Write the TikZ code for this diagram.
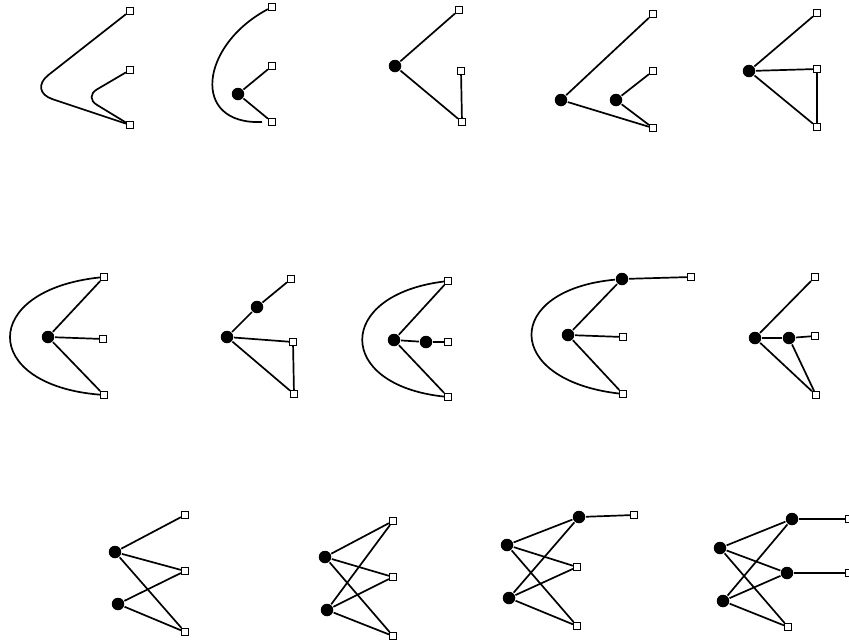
\documentclass[tikz,border=0pt]{standalone}
\usepackage{tikz}

\begin{document}
\begin{tikzpicture}[x=1pt, y=-1pt, line width=1.7pt,
      sq/.style={draw, line width=1.1pt, fill=white, inner sep=0pt, minimum size=7pt},
      dot/.style={circle, fill=black, inner sep=0pt, minimum size=12.5pt}]
      \useasboundingbox (0,0) rectangle (849,641);
      % row 1
      \node[sq] (a1) at (130,11) {};  \node[sq] (a2) at (130,70) {};  \node[sq] (a3) at (130,125) {};
      \coordinate (a4) at (28,91);    \coordinate (a5) at (84,97);
      \draw[rounded corners=26pt] (a1) -- (a4) -- (a3);
      \draw[rounded corners=15pt] (a2) -- (a5) -- (a3);
      \node[sq] (b1) at (272,7) {};   \node[sq] (b2) at (272,66) {};  \node[sq] (b3) at (272,122) {};
      \node[dot] (b4) at (238,94) {}; \coordinate (b5) at (262,122);
      \draw (b1) .. controls (200,45) and (190,125) .. (b5);
      \draw (b4) -- (b2);  \draw (b4) -- (b3);
      \node[sq] (c1) at (459,10) {};  \node[sq] (c2) at (461,71) {};  \node[sq] (c3) at (462,122) {};
      \node[dot] (c4) at (395,66) {};
      \draw (c4) -- (c1);  \draw (c4) -- (c3);  \draw (c2) -- (c3);
      \node[sq] (d1) at (653,14) {};  \node[sq] (d2) at (653,71) {};  \node[sq] (d3) at (653,128) {};
      \node[dot] (d4) at (561,100) {}; \node[dot] (d5) at (616,100) {};
      \draw (d4) -- (d1);  \draw (d4) -- (d3);  \draw (d5) -- (d2);  \draw (d5) -- (d3);
      \node[sq] (e1) at (817,13) {};  \node[sq] (e2) at (817,69) {};  \node[sq] (e3) at (817,127) {};
      \node[dot] (e4) at (749,71) {};
      \draw (e4) -- (e1);  \draw (e4) -- (e2);  \draw (e4) -- (e3);  \draw (e2) -- (e3);
      % row 2
      \node[sq] (f1) at (104,277) {}; \node[sq] (f2) at (103,339) {}; \node[sq] (f3) at (104,395) {};
      \node[dot] (f4) at (48,337) {};
      \draw (f1) .. controls (-20,290) and (-20,385) .. (f3);
      \draw (f4) -- (f1);  \draw (f4) -- (f2);  \draw (f4) -- (f3);
      \node[sq] (g1) at (291,279) {}; \node[sq] (g2) at (293,342) {}; \node[sq] (g3) at (294,394) {};
      \node[dot] (g4) at (227,337) {}; \node[dot] (g5) at (257,307) {};
      \draw (g4) -- (g5) -- (g1);  \draw (g4) -- (g2);  \draw (g4) -- (g3);  \draw (g2) -- (g3);
      \node[sq] (h1) at (448,281) {}; \node[sq] (h2) at (448,342) {}; \node[sq] (h3) at (448,397) {};
      \node[dot] (h4) at (394,340) {}; \node[dot] (h5) at (426,342) {};
      \draw (h1) .. controls (335,295) and (335,385) .. (h3);
      \draw (h4) -- (h1);  \draw (h4) -- (h5) -- (h2);  \draw (h4) -- (h3);
      \node[dot] (i1) at (622,279) {}; \node[sq] (i2) at (623,337) {}; \node[sq] (i3) at (623,394) {};
      \node[dot] (i4) at (568,335) {}; \node[sq] (i5) at (691,277) {};
      \draw (i1) .. controls (503,290) and (503,380) .. (i3);
      \draw (i4) -- (i1);  \draw (i4) -- (i2);  \draw (i4) -- (i3);  \draw (i1) -- (i5);
      \node[sq] (j1) at (815,277) {}; \node[sq] (j2) at (815,336) {}; \node[sq] (j3) at (816,395) {};
      \node[dot] (j4) at (755,338) {}; \node[dot] (j5) at (789,338) {};
      \draw (j4) -- (j1);  \draw (j4) -- (j5) -- (j2);  \draw (j4) -- (j3);  \draw (j5) -- (j3);
      % row 3
      \node[sq] (k1) at (185,515) {}; \node[sq] (k2) at (185,571) {}; \node[sq] (k3) at (185,632) {};
      \node[dot] (k4) at (115,552) {}; \node[dot] (k5) at (118,604) {};
      \draw (k4) -- (k1);  \draw (k4) -- (k2);  \draw (k4) -- (k3);  \draw (k5) -- (k2);  \draw (k5) -- (k3);
      \node[sq] (l1) at (393,521) {}; \node[sq] (l2) at (393,577) {}; \node[sq] (l3) at (393,636) {};
      \node[dot] (l4) at (325,557) {}; \node[dot] (l5) at (327,610) {};
      \foreach \s in {l1,l2,l3} {\draw (l4) -- (\s);  \draw (l5) -- (\s);}
      \node[dot] (m1) at (579,517) {}; \node[sq] (m2) at (577,567) {}; \node[sq] (m3) at (577,626) {};
      \node[dot] (m4) at (507,545) {}; \node[dot] (m5) at (509,598) {}; \node[sq] (m6) at (634,515) {};
      \foreach \s in {m1,m2,m3} {\draw (m4) -- (\s);  \draw (m5) -- (\s);}
      \draw (m1) -- (m6);
      \node[dot] (n1) at (792,519) {}; \node[dot] (n2) at (787,573) {}; \node[sq] (n3) at (788,627) {};
      \node[dot] (n4) at (720,548) {}; \node[dot] (n5) at (723,601) {};
      \node[sq] (n6) at (849,519) {}; \node[sq] (n7) at (849,573) {};
      \foreach \s in {n1,n2,n3} {\draw (n4) -- (\s);  \draw (n5) -- (\s);}
      \draw (n1) -- (n6);  \draw (n2) -- (n7);
    \end{tikzpicture}
\end{document}
